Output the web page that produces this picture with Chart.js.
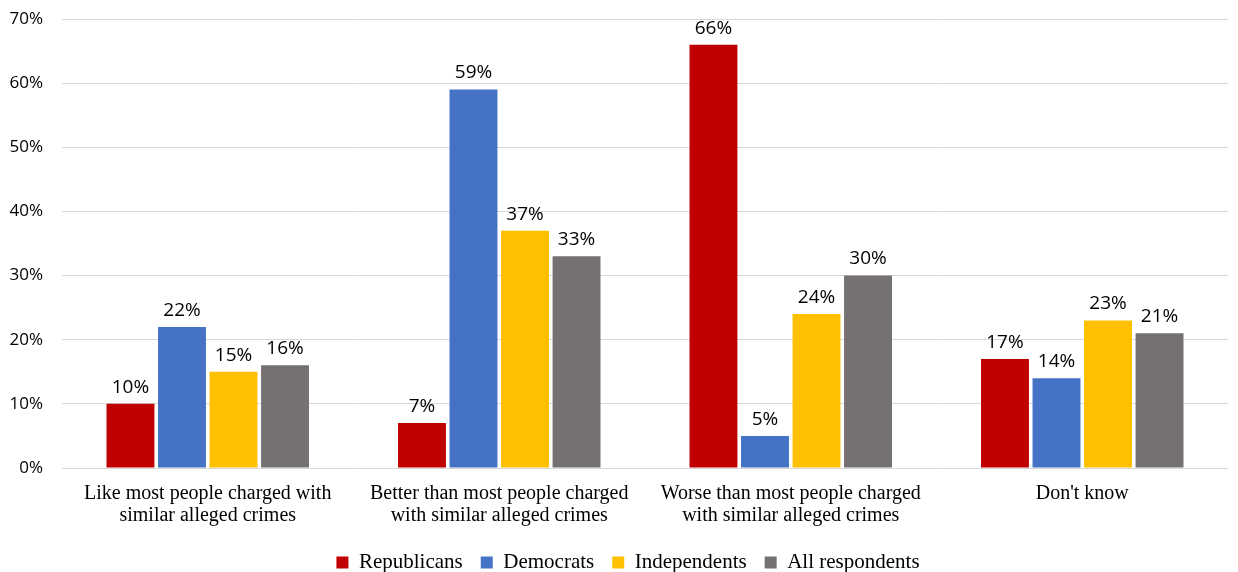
<!DOCTYPE html>
<html lang="en">
<head>
    <meta charset="UTF-8">
    <title>Treatment compared with others charged</title>
    <script src="https://cdn.jsdelivr.net/npm/chart.js"></script>
    <style>
        body {
            margin: 0;
            padding: 0;
            background: #fff;
            overflow: hidden;
        }
        .chart-box {
            width: 1238px;
            height: 572px;
        }
    </style>
</head>
<body>
    <div class="chart-box">
        <canvas id="pollChart"></canvas>
    </div>

    <script>
        const categories = [
            ["Like most people charged with", "similar alleged crimes"],
            ["Better than most people charged", "with similar alleged crimes"],
            ["Worse than most people charged", "with similar alleged crimes"],
            "Don't know"
        ];
        const republicans = [10, 7, 66, 17];
        const democrats = [22, 59, 5, 14];
        const independents = [15, 37, 24, 23];
        const allRespondents = [16, 33, 30, 21];
        const yTicks = [0, 10, 20, 30, 40, 50, 60, 70];

        // value labels above each bar
        const barLabels = {
            id: 'barLabels',
            afterDatasetsDraw(chart) {
                const ctx = chart.ctx;
                ctx.save();
                ctx.font = '19px "Open Sans", sans-serif';
                ctx.fillStyle = '#000';
                ctx.textAlign = 'center';
                ctx.textBaseline = 'bottom';
                chart.data.datasets.forEach((ds, i) => {
                    chart.getDatasetMeta(i).data.forEach((bar, j) => {
                        ctx.fillText(ds.data[j] + '%', bar.x, bar.y - 7);
                    });
                });
                ctx.restore();
            }
        };

        // nudge the legend right so it sits under the middle of the plot
        const legendShift = {
            id: 'legendShift',
            afterLayout(chart) {
                if (chart.legend) {
                    chart.legend.left += 14;
                    chart.legend.right += 14;
                }
            }
        };

        const serif = '"Liberation Serif", "Times New Roman", serif';

        const ctx = document.getElementById('pollChart').getContext('2d');
        new Chart(ctx, {
            type: 'bar',
            data: {
                labels: categories,
                datasets: [
                    { label: 'Republicans', data: republicans, backgroundColor: '#c00000' },
                    { label: 'Democrats', data: democrats, backgroundColor: '#4472c4' },
                    { label: 'Independents', data: independents, backgroundColor: '#ffc000' },
                    { label: 'All respondents', data: allRespondents, backgroundColor: '#767171' }
                ]
            },
            options: {
                responsive: true,
                maintainAspectRatio: false,
                animation: false,
                layout: { padding: { top: 19, right: 10, left: 0, bottom: -11 } },
                datasets: {
                    bar: { categoryPercentage: 0.707, barPercentage: 0.93 }
                },
                scales: {
                    x: {
                        grid: { display: false },
                        border: { display: false },
                        ticks: {
                            color: '#000',
                            font: { family: serif, size: 20, lineHeight: 1.1 },
                            maxRotation: 0,
                            autoSkip: false,
                            padding: 7
                        }
                    },
                    y: {
                        min: 0,
                        max: 70,
                        afterBuildTicks: axis => { axis.ticks = yTicks.map(v => ({ value: v })); },
                        afterFit: axis => {
                            axis.width = 62;
                            axis.paddingTop = 0;
                            axis.paddingBottom = 0;
                        },
                        grid: { color: '#d9d9d9', lineWidth: 1, drawTicks: false },
                        border: { display: false },
                        ticks: {
                            color: '#000',
                            font: { family: '"Open Sans", sans-serif', size: 17 },
                            padding: 19,
                            callback: v => v + '%'
                        }
                    }
                },
                plugins: {
                    legend: {
                        position: 'bottom',
                        labels: {
                            color: '#000',
                            font: { family: serif, size: 21 },
                            boxWidth: 12,
                            boxHeight: 12,
                            padding: 18
                        }
                    },
                    tooltip: { enabled: false }
                }
            },
            plugins: [barLabels, legendShift]
        });
    </script>
</body>
</html>
